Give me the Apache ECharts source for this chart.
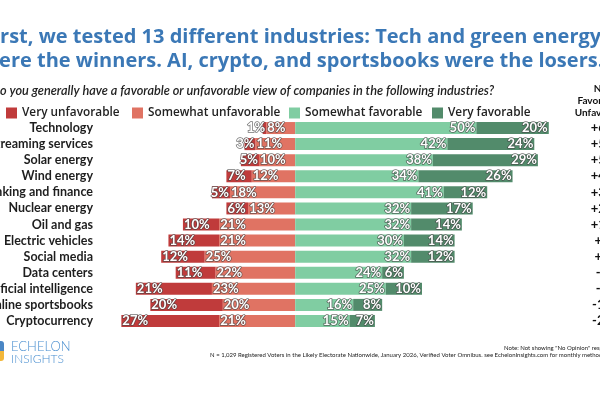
<!DOCTYPE html>
<html>
<head>
<meta charset="utf-8">
<script src="https://cdn.jsdelivr.net/npm/echarts@6/dist/echarts.min.js"></script>
<style>
  html, body { margin: 0; padding: 0; background: #fff; }
  #chart { width: 600px; height: 400px; }
</style>
</head>
<body>
<div id="chart"></div>
<script>
// Survey data (percent)
const industries = ['Technology', 'Streaming services', 'Solar energy', 'Wind energy',
  'Banking and finance', 'Nuclear energy', 'Oil and gas', 'Electric vehicles',
  'Social media', 'Data centers', 'Artificial intelligence', 'Online sportsbooks', 'Cryptocurrency'];
const veryUnfav     = [1, 3, 5, 7, 5, 6, 10, 14, 12, 11, 21, 20, 27];
const somewhatUnfav = [8, 11, 10, 12, 18, 13, 21, 21, 25, 22, 23, 20, 21];
const somewhatFav   = [50, 42, 38, 34, 41, 32, 32, 30, 32, 24, 25, 16, 15];
const veryFav       = [20, 24, 29, 26, 12, 17, 14, 14, 12, 6, 10, 8, 7];
const netLabels     = ['+61', '+52', '+52', '+41', '+30', '+29', '+15', '+9', '+7', '-3', '-9', '-16', '-26'];

const C_VU = '#c03b3b';
const C_SU = '#e07363';
const C_SF = '#80cda2';
const C_VF = '#528b6b';

const FONT = 'Lato, "Open Sans", sans-serif';
const WIDE_FONT = '"Open Sans", Lato, sans-serif';

const chart = echarts.init(document.getElementById('chart'));

const dataLabel = {
  show: true,
  color: '#fff',
  fontFamily: FONT,
  fontWeight: 'bold',
  fontSize: 13,
  textBorderColor: 'rgba(70,70,70,0.75)',
  textBorderWidth: 1.5,
  distance: 1
};

// small very-unfavorable bars get their label right-aligned at the bar end
const veryUnfavData = veryUnfav.map(v => ({
  value: -v,
  label: v <= 5 ? { position: 'insideRight' } : { position: 'insideLeft' }
}));

const legendItem = (name, left) => ({
  data: [name],
  left: left,
  top: 102,
  icon: 'rect',
  itemWidth: 11,
  itemHeight: 11,
  itemGap: 0,
  textStyle: { fontFamily: WIDE_FONT, fontSize: 11.8, fontWeight: 600, color: '#222' }
});

chart.setOption({
  animation: false,
  textStyle: { fontFamily: FONT },
  grid: { left: 96, right: 15, top: 120, height: 209, outerBoundsMode: 'none' },
  legend: [
    legendItem('Very unfavorable', 1),
    legendItem('Somewhat unfavorable', 127),
    legendItem('Somewhat favorable', 284),
    legendItem('Very favorable', 427)
  ],
  xAxis: {
    type: 'value',
    min: -55,
    max: 80,
    show: false
  },
  yAxis: [{
    type: 'category',
    data: industries,
    inverse: true,
    axisLine: { show: false },
    axisTick: { show: false },
    axisLabel: { interval: 0, fontFamily: FONT, fontSize: 12.5, fontWeight: 'bold', color: '#1e1e1e', margin: 3 }
  }, {
    type: 'category',
    data: netLabels,
    inverse: true,
    position: 'right',
    axisLine: { show: false },
    axisTick: { show: false },
    axisLabel: { interval: 0, fontFamily: FONT, fontSize: 13, fontWeight: 'bold', color: '#111', align: 'center', margin: 17 }
  }],
  series: [{
    name: 'Somewhat unfavorable',
    type: 'bar',
    stack: 'all',
    barWidth: 12,
    itemStyle: { color: C_SU },
    label: Object.assign({}, dataLabel, { position: 'insideLeft', formatter: p => Math.abs(p.value) + '%' }),
    data: somewhatUnfav.map(v => -v)
  }, {
    name: 'Very unfavorable',
    type: 'bar',
    stack: 'all',
    barWidth: 12,
    itemStyle: { color: C_VU },
    label: Object.assign({}, dataLabel, { formatter: p => Math.abs(p.value) + '%' }),
    data: veryUnfavData
  }, {
    name: 'Somewhat favorable',
    type: 'bar',
    stack: 'all',
    barWidth: 12,
    itemStyle: { color: C_SF },
    label: Object.assign({}, dataLabel, { position: 'insideRight', formatter: '{c}%' }),
    data: somewhatFav
  }, {
    name: 'Very favorable',
    type: 'bar',
    stack: 'all',
    barWidth: 12,
    itemStyle: { color: C_VF },
    label: Object.assign({}, dataLabel, { position: 'insideRight', formatter: '{c}%' }),
    data: veryFav
  }],
  graphic: [
    { type: 'text', x: -17, y: 37, style: { text: 'First, we tested 13 different industries: Tech and green energy', font: 'bold 20px ' + WIDE_FONT, fill: '#3b78b6', verticalAlign: 'middle' } },
    { type: 'text', x: -18, y: 61, style: { text: 'were the winners. AI, crypto, and sportsbooks were the losers.', font: 'bold 20px ' + WIDE_FONT, fill: '#3b78b6', verticalAlign: 'middle' } },
    { type: 'text', x: -9, y: 91, style: { text: 'Do you generally have a favorable or unfavorable view of companies in the following industries?', font: 'italic 600 12.7px ' + FONT, fill: '#222', verticalAlign: 'middle' } },
    { type: 'text', x: 602, y: 83, style: { text: 'Net\nFavorable -\nUnfavorable', font: 'bold 10px ' + FONT, fill: '#111', align: 'center', lineHeight: 12 } },
    // logo
    { type: 'rect', shape: { x: -6, y: 341, width: 10, height: 10, r: [0, 3, 0, 0] }, style: { fill: '#4a86c5' } },
    { type: 'rect', shape: { x: -6, y: 351, width: 10, height: 10, r: [0, 0, 3, 0] }, style: { fill: '#f2b73a' } },
    { type: 'text', x: 11, y: 340, style: { text: 'ECHELON', font: '300 13px ' + FONT, fill: '#4a8fd0' } },
    { type: 'text', x: 11, y: 353, style: { text: 'INSIGHTS', font: '300 12px ' + FONT, fill: '#4a8fd0' } },
    // footnotes
    { type: 'text', x: 618, y: 348, style: { text: 'Note: Not showing "No Opinion" responses', font: '6px ' + FONT, fill: '#222', align: 'right', verticalAlign: 'middle' } },
    { type: 'text', x: 618, y: 355, style: { text: 'N = 1,029 Registered Voters in the Likely Electorate Nationwide, January 2026, Verified Voter Omnibus. see EchelonInsights.com for monthly methodology.', font: '6px ' + FONT, fill: '#222', align: 'right', verticalAlign: 'middle' } }
  ]
});
</script>
</body>
</html>
